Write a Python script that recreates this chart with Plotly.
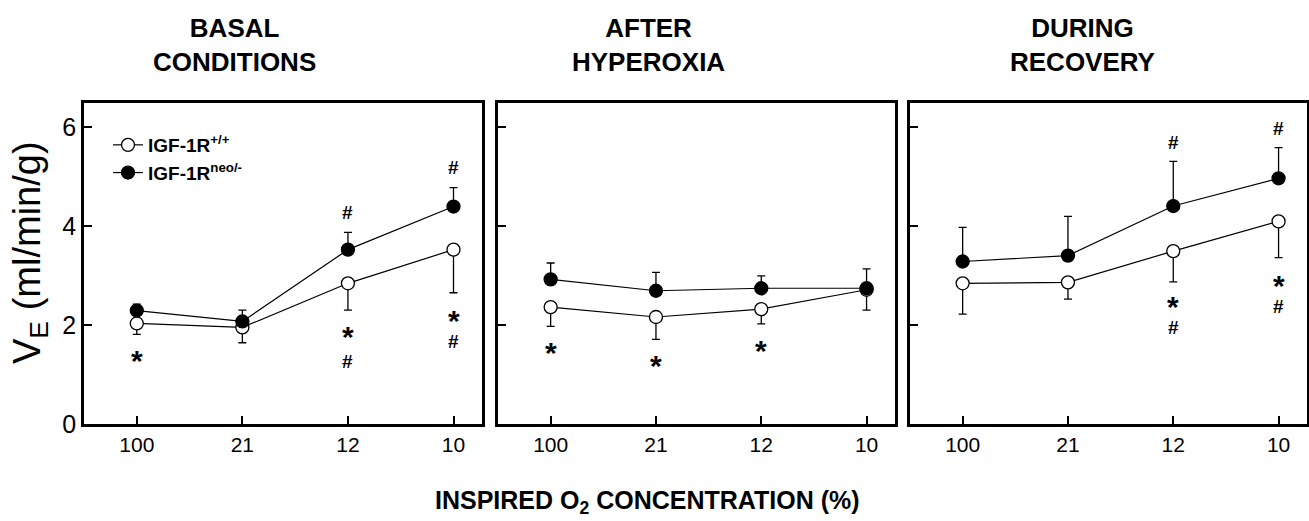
import plotly.graph_objects as go

W, H = 1309, 521

categories = ["100", "21", "12", "10"]
panel_titles = ["BASAL<br>CONDITIONS", "AFTER<br>HYPEROXIA", "DURING<br>RECOVERY"]

# IGF-1R+/+ (open circles), SE drawn downward
wt_mean = [
    [2.03, 1.95, 2.84, 3.52],
    [2.36, 2.16, 2.32, 2.71],
    [2.84, 2.86, 3.49, 4.09],
]
wt_se = [
    [0.22, 0.31, 0.54, 0.87],
    [0.39, 0.45, 0.30, 0.41],
    [0.62, 0.34, 0.62, 0.73],
]
# IGF-1Rneo/- (filled circles), SE drawn upward
neo_mean = [
    [2.29, 2.07, 3.52, 4.39],
    [2.92, 2.69, 2.74, 2.74],
    [3.28, 3.40, 4.40, 4.96],
]
neo_se = [
    [0.13, 0.23, 0.35, 0.38],
    [0.33, 0.37, 0.25, 0.39],
    [0.69, 0.79, 0.90, 0.62],
]

# significance marks: (panel, category, y value, symbol)
sig_panel = [0, 0, 0, 0, 0, 0, 0, 1, 1, 1, 2, 2, 2, 2, 2, 2]
sig_cat = ["100", "12", "12", "12", "10", "10", "10", "100", "21", "12", "12", "12", "12", "10", "10", "10"]
sig_y = [1.43, 4.26, 1.90, 1.26, 5.17, 2.24, 1.66, 1.58, 1.33, 1.62, 5.68, 2.52, 1.95, 5.97, 2.94, 2.37]
sig_sym = ["*", "#", "*", "#", "#", "*", "#", "*", "*", "*", "#", "*", "#", "#", "*", "#"]

y_ticks = [0, 2, 4, 6]

x_domains = [[84 / W, 482 / W], [498 / W, 895 / W], [910 / W, 1307 / W]]
y_domain = [1 - 424 / H, 1 - 103 / H]
title_cx = [235, 648, 1082]

SANS = "Liberation Sans, Arial, Helvetica"

fig = go.Figure()

for p in range(3):
    xa = "x" if p == 0 else f"x{p+1}"
    ya = "y" if p == 0 else f"y{p+1}"
    fig.add_trace(go.Scatter(
        x=categories, y=wt_mean[p], xaxis=xa, yaxis=ya,
        mode="lines+markers",
        name="IGF-1R<sup>+/+</sup>", showlegend=(p == 0), legendrank=1,
        line=dict(color="black", width=1.2),
        marker=dict(symbol="circle", size=13, color="white", line=dict(color="black", width=1.3)),
        error_y=dict(type="data", symmetric=False, array=[0] * 4, arrayminus=wt_se[p],
                     color="black", thickness=1.3, width=4),
    ))
    fig.add_trace(go.Scatter(
        x=categories, y=neo_mean[p], xaxis=xa, yaxis=ya,
        mode="lines+markers",
        name="IGF-1R<sup>neo/-</sup>", showlegend=(p == 0), legendrank=2,
        line=dict(color="black", width=1.2),
        marker=dict(symbol="circle", size=13, color="black", line=dict(color="black", width=1.3)),
        error_y=dict(type="data", symmetric=False, array=neo_se[p], arrayminus=[0] * 4,
                     color="black", thickness=1.3, width=4),
    ))

axis_common = dict(showline=True, linecolor="black", linewidth=2.5, mirror=True,
                   ticks="inside", ticklen=8, tickwidth=2, tickcolor="black",
                   showgrid=False, zeroline=False, automargin=False)

layout = dict(
    width=W, height=H,
    margin=dict(l=0, r=0, t=0, b=0),
    paper_bgcolor="white", plot_bgcolor="white",
    template="none",
    showlegend=True,
    legend=dict(x=108 / W, y=1 - 126 / H, xanchor="left", yanchor="top",
                bgcolor="rgba(0,0,0,0)", borderwidth=0, itemwidth=30,
                font=dict(family=SANS, size=19, color="black", weight="bold"),
                tracegroupgap=0),
    font=dict(family=SANS, color="black"),
)

for p in range(3):
    xk = "xaxis" if p == 0 else f"xaxis{p+1}"
    yk = "yaxis" if p == 0 else f"yaxis{p+1}"
    xa_anchor = "y" if p == 0 else f"y{p+1}"
    ya_anchor = "x" if p == 0 else f"x{p+1}"
    layout[xk] = dict(axis_common, type="category", categoryorder="array", categoryarray=categories,
                      range=[-0.5, 3.27], domain=x_domains[p], anchor=xa_anchor,
                      tickfont=dict(family=SANS, size=21, color="black"))
    layout[yk] = dict(axis_common, range=[0, 6.48], tickvals=y_ticks, domain=y_domain,
                      anchor=ya_anchor, showticklabels=(p == 0),
                      tickfont=dict(family=SANS, size=25, color="black"))

fig.update_layout(**layout)

annotations = []
for p in range(3):
    annotations.append(dict(text=f"<b>{panel_titles[p]}</b>", x=title_cx[p] / W, y=1 - 45 / H,
                            xref="paper", yref="paper", xanchor="center", yanchor="middle",
                            showarrow=False, font=dict(family=SANS, size=26, color="black")))

annotations.append(dict(text="<b>INSPIRED O<sub>2</sub> CONCENTRATION (%)</b>", x=647 / W, y=1 - 502 / H,
                        xref="paper", yref="paper", xanchor="center", yanchor="middle",
                        showarrow=False, font=dict(family=SANS, size=25, color="black")))
annotations.append(dict(text="V<sub>E</sub> (ml/min/g)", x=30 / W, y=1 - 253 / H, textangle=-90,
                        xref="paper", yref="paper", xanchor="center", yanchor="middle",
                        showarrow=False, font=dict(family=SANS, size=38, color="black")))

for pnl, c, yv, s in zip(sig_panel, sig_cat, sig_y, sig_sym):
    xr = "x" if pnl == 0 else f"x{pnl+1}"
    yr = "y" if pnl == 0 else f"y{pnl+1}"
    annotations.append(dict(text=f"<b>{s}</b>", x=categories.index(c), y=yv, xref=xr, yref=yr,
                            xanchor="center", yanchor="middle", showarrow=False,
                            font=dict(family=SANS, size=30 if s == "*" else 19, color="black"),
                            yshift=-7 if s == "*" else 0))

fig.update_layout(annotations=annotations)
fig.write_html("out.html", config={"displayModeBar": False},
               post_script="document.body.style.margin='0px';")
